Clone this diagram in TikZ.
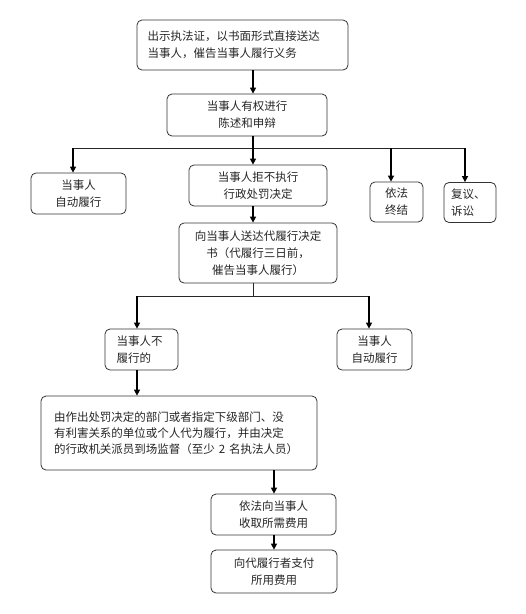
\documentclass[tikz,border=0pt]{standalone}
\usepackage{fontspec}
\setmainfont{Noto Sans CJK SC}
\usetikzlibrary{arrows.meta}
\begin{document}
\begin{tikzpicture}[x=1pt,y=-1pt,
  box/.style={draw=black!80, line width=0.8pt, rounded corners=5pt, inner sep=2pt,
    font=\fontsize{11.5}{17}\selectfont, text=black!85, align=center},
  arr/.style={draw=black, line width=1.4pt, -{Triangle[width=6pt,length=6pt]}},
  thin/.style={draw=black!85, line width=0.8pt}]
\useasboundingbox (0,0) rectangle (526,614);
\fill[white] (0,0) rectangle (526,614);

\node[box, minimum width=211pt, minimum height=50pt, text width=190pt, align=left] (b1) at (242.5,45)
  {出示执法证，以书面形式直接送达\\当事人，催告当事人履行义务};
\node[box, minimum width=160pt, minimum height=42pt] (b2) at (247,115)
  {当事人有权进行\\陈述和申辩};
\node[box, minimum width=95pt, minimum height=41pt] (bA) at (78.5,193.5)
  {当事人\\自动履行};
\node[box, minimum width=138pt, minimum height=41pt] (bB) at (258,185.5)
  {当事人拒不执行\\行政处罚决定};
\node[box, minimum width=53pt, minimum height=40pt] (bC) at (396.5,202)
  {依法\\终结};
\node[box, minimum width=52pt, minimum height=40pt, text width=38pt, align=left] (bD) at (470,202.5)
  {复议、\\诉讼};
\node[box, minimum width=158pt, minimum height=60pt] (bE) at (258,253)
  {向当事人送达代履行决定\\书（代履行三日前，\\催告当事人履行）};
\node[box, minimum width=73pt, minimum height=41pt, text width=50pt, align=left] (bF) at (141.5,349.5)
  {当事人不\\履行的};
\node[box, minimum width=75pt, minimum height=41pt] (bG) at (374.5,349.5)
  {当事人\\自动履行};
\node[box, minimum width=276pt, minimum height=74pt, text width=250pt, align=left,
  font=\fontsize{11.5}{16}\selectfont] (bH) at (179,433)
  {由作出处罚决定的部门或者指定下级部门、没\\有利害关系的单位或个人代为履行，并由决定\\的行政机关派员到场监督（至少 2 名执法人员）};
\node[box, minimum width=125pt, minimum height=41pt] (bI) at (273.5,514.5)
  {依法向当事人\\收取所需费用};
\node[box, minimum width=126pt, minimum height=43pt] (bJ) at (274,571.5)
  {向代履行者支付\\所用费用};

\coordinate (s1) at (253,0);
\coordinate (s2) at (274,0);
\coordinate (hA) at (73,148);
\coordinate (hC) at (391,148);
\coordinate (hD) at (465,148);
\coordinate (kF) at (137,296);
\coordinate (kG) at (369,296);

\draw[arr] (s1 |- b1.south) -- (s1 |- b2.north);
\draw[thin] (hA) -- (hD);
\draw[arr] (s1 |- b2.south) -- (s1 |- bB.north);
\draw[arr] (hA) -- (hA |- bA.north);
\draw[arr] (hC) -- (hC |- bC.north);
\draw[arr] (hD) -- (hD |- bD.north);
\draw[arr] (s1 |- bB.south) -- (s1 |- bE.north);
\draw[thin] (s1 |- bE.south) -- (s1 |- kF);
\draw[thin] (kF) -- (kG);
\draw[arr] (kF) -- (kF |- bF.north);
\draw[arr] (kG) -- (kG |- bG.north);
\draw[arr] (kF |- bF.south) -- (kF |- bH.north);
\draw[arr] (s2 |- bH.south) -- (s2 |- bI.north);
\draw[arr] (s2 |- bI.south) -- (s2 |- bJ.north);
\end{tikzpicture}
\end{document}
